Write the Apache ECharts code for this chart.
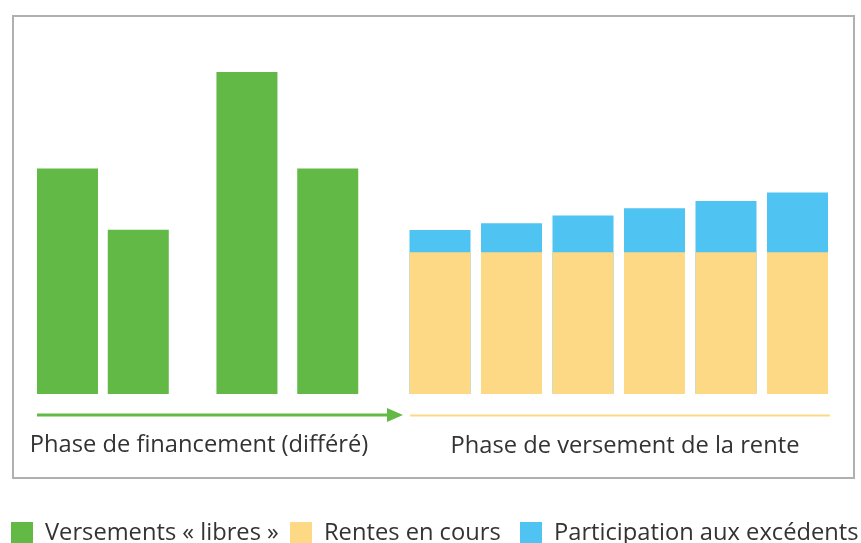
<!DOCTYPE html>
<html>
<head>
<meta charset="utf-8">
<script src="https://cdn.jsdelivr.net/npm/echarts@6/dist/echarts.min.js"></script>
<style>
html,body{margin:0;padding:0;background:#fff;}
#chart{width:861px;height:543px;}
</style>
</head>
<body>
<div id="chart"></div>
<script>
// Schematic time positions (period index) of each bar
var financingPeriods = [0.79, 1.78, 3.30, 4.43];
var payoutPeriods = [6, 7, 8, 9, 10, 11];
// Values (relative units)
var freePayments = [70, 51, 100, 70];
var currentAnnuities = [44, 44, 44, 44, 44, 44];
var surplusShares = [6.9, 9.0, 11.4, 13.7, 15.9, 18.6];
// Texts
var seriesNames = ['Versements « libres »', 'Rentes en cours', 'Participation aux excédents'];
var phaseLabels = ['Phase de financement (différé)', 'Phase de versement de la rente'];

var GREEN = '#62b946', YELLOW = '#fdd985', BLUE = '#4fc3f1';
var FONT = '"Open Sans", sans-serif';
var FS = 23.7;

function pairs(xs, ys) { return xs.map(function (x, i) { return [x, ys[i]]; }); }
// top of each stacked bar = annuity + surplus share (drawn beneath the annuity bar)
var stackTotals = currentAnnuities.map(function (v, i) { return v + surplusShares[i]; });

function legendItem(name, left) {
  return {
    left: left, top: 521, itemWidth: 22, itemHeight: 22, padding: 0,
    icon: 'rect',
    textStyle: {fontFamily: FONT, fontSize: FS, color: '#333333', padding: [0, 0, 0, 7]},
    data: [name]
  };
}

var chart = echarts.init(document.getElementById('chart'), null, {renderer: 'canvas'});
var option = {
  animation: false,
  backgroundColor: '#ffffff',
  grid: {left: 11, right: 27.75, top: 72, bottom: 149},
  xAxis: {type: 'value', min: 0, max: 11.5, show: false},
  yAxis: {type: 'value', min: 0, max: 100, show: false},
  legend: [
    legendItem(seriesNames[0], 11),
    legendItem(seriesNames[1], 290),
    legendItem(seriesNames[2], 520)
  ],
  series: [
    {name: seriesNames[0], type: 'bar', barWidth: 61, barGap: '-100%',
     itemStyle: {color: GREEN}, data: pairs(financingPeriods, freePayments)},
    {name: seriesNames[2], type: 'bar', barWidth: 61, barGap: '-100%', z: 2,
     itemStyle: {color: BLUE}, data: pairs(payoutPeriods, stackTotals)},
    {name: seriesNames[1], type: 'bar', barWidth: 61, barGap: '-100%', z: 3,
     itemStyle: {color: YELLOW}, data: pairs(payoutPeriods, currentAnnuities)}
  ],
  graphic: [
    {type: 'rect', shape: {x: 13, y: 16, width: 841, height: 462},
     style: {fill: null, stroke: '#b0b0b0', lineWidth: 2}, silent: true, z: 0},
    {type: 'line', shape: {x1: 37, y1: 415, x2: 390, y2: 415},
     style: {stroke: GREEN, lineWidth: 3}, silent: true},
    {type: 'polygon', shape: {points: [[387, 408], [403, 415], [387, 422]]},
     style: {fill: GREEN}, silent: true},
    {type: 'line', shape: {x1: 410, y1: 415.5, x2: 830, y2: 415.5},
     style: {stroke: YELLOW, lineWidth: 2}, silent: true},
    {type: 'text', x: 199, y: 445,
     style: {text: phaseLabels[0], font: FS + 'px ' + FONT, fill: '#333333',
             textAlign: 'center', textVerticalAlign: 'middle'}, silent: true},
    {type: 'text', x: 625, y: 446,
     style: {text: phaseLabels[1], font: FS + 'px ' + FONT, fill: '#333333',
             textAlign: 'center', textVerticalAlign: 'middle'}, silent: true}
  ]
};
chart.setOption(option);
</script>
</body>
</html>
